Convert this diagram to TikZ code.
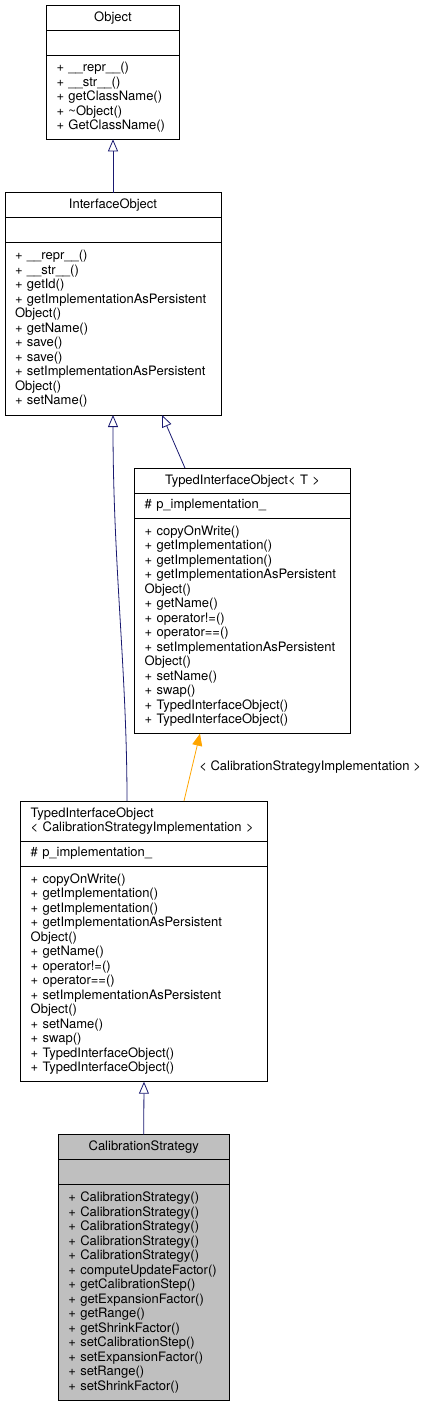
\documentclass[tikz,border=0pt]{standalone}
\usepackage{fontspec}
\setmainfont{TeX Gyre Heros}
\usepackage{xcolor}
\usepackage{tikz}
\usetikzlibrary{positioning,arrows.meta,calc}

\definecolor{edgeblue}{HTML}{191970}
\definecolor{edgeorange}{HTML}{FFA500}

\begin{document}
\begin{tikzpicture}[
  x=1pt,y=1pt,
  font=\fontsize{13}{14.5}\selectfont,
  cls/.style ={draw,line width=0.8pt,outer sep=0pt,inner xsep=10pt,inner ysep=0pt,fill=white},
  ttl/.style ={cls,align=center,minimum height=25pt},
  attr/.style={cls,align=left,minimum height=25pt},
  meth/.style={cls,align=left},
  inh/.style ={-{Triangle[open,length=12pt,width=10pt]},line width=0.8pt,edgeblue},
  tmpl/.style={-{Triangle[length=12pt,width=10pt]},line width=0.8pt,edgeorange}
]
\useasboundingbox (0,0) rectangle (431,-1408);
% Object
\node[ttl,text width=113pt] (objT) at (113,-17.8) {Object};
\node[attr,text width=113pt,below=0pt of objT] (objA) {};
\node[meth,text width=113pt,minimum height=84pt,below=0pt of objA] (objM)
  {+ \_\_repr\_\_()\\+ \_\_str\_\_()\\+ getClassName()\\+ \textasciitilde Object()\\+ GetClassName()};
% InterfaceObject
\node[ttl,text width=196pt] (ioT) at (113,-205.2) {InterfaceObject};
\node[attr,text width=196pt,below=0pt of ioT] (ioA) {};
\node[meth,text width=196pt,minimum height=172.3pt,below=0pt of ioA] (ioM)
  {+ \_\_repr\_\_()\\+ \_\_str\_\_()\\+ getId()\\+ getImplementationAsPersistent\\Object()\\+ getName()\\+ save()\\+ save()\\+ setImplementationAsPersistent\\Object()\\+ setName()};
% TypedInterfaceObject< T >
\node[ttl,text width=195.6pt] (tioT) at (242.5,-480.6) {TypedInterfaceObject< T >};
\node[attr,text width=195.6pt,below=0pt of tioT] (tioA) {\# p\_implementation\_};
\node[meth,text width=195.6pt,minimum height=215.6pt,below=0pt of tioA] (tioM)
  {+ copyOnWrite()\\+ getImplementation()\\+ getImplementation()\\+ getImplementationAsPersistent\\Object()\\+ getName()\\+ operator!=()\\+ operator==()\\+ setImplementationAsPersistent\\Object()\\+ setName()\\+ swap()\\+ TypedInterfaceObject()\\+ TypedInterfaceObject()};
% TypedInterfaceObject< CalibrationStrategyImplementation >
\node[cls,align=left,minimum height=40pt,text width=226.6pt] (cimT) at (144,-821) {TypedInterfaceObject\\< CalibrationStrategyImplementation >};
\node[attr,text width=226.6pt,below=0pt of cimT] (cimA) {\# p\_implementation\_};
\node[meth,text width=226.6pt,minimum height=215.7pt,below=0pt of cimA] (cimM)
  {+ copyOnWrite()\\+ getImplementation()\\+ getImplementation()\\+ getImplementationAsPersistent\\Object()\\+ getName()\\+ operator!=()\\+ operator==()\\+ setImplementationAsPersistent\\Object()\\+ setName()\\+ swap()\\+ TypedInterfaceObject()\\+ TypedInterfaceObject()};
% CalibrationStrategy
\node[ttl,text width=150.7pt,fill=black!25] (csT) at (143.7,-1147) {CalibrationStrategy};
\node[attr,text width=150.7pt,fill=black!25,minimum height=25.3pt,below=0pt of csT] (csA) {};
\node[meth,text width=150.7pt,fill=black!25,minimum height=215.4pt,below=0pt of csA] (csM)
  {+ CalibrationStrategy()\\+ CalibrationStrategy()\\+ CalibrationStrategy()\\+ CalibrationStrategy()\\+ CalibrationStrategy()\\+ computeUpdateFactor()\\+ getCalibrationStep()\\+ getExpansionFactor()\\+ getRange()\\+ getShrinkFactor()\\+ setCalibrationStep()\\+ setExpansionFactor()\\+ setRange()\\+ setShrinkFactor()};
% edges
\draw[inh] (ioT.north) -- (objM.south);
\draw[inh] ([xshift=-17pt]cimT.north) .. controls ([xshift=-17pt]$(cimT.north)+(0,130)$) and ([yshift=-150pt]ioM.south) .. (ioM.south);
\draw[inh] ([xshift=-57.5pt]tioT.north) -- ([xshift=49pt]ioM.south);
\draw[tmpl] ([xshift=40pt]cimT.north) -- node[right,inner sep=2pt,xshift=5pt,text=black] (lbl) {< CalibrationStrategyImplementation >} ([xshift=-42.5pt]tioM.south);
\draw[inh] (csT.north) -- (cimM.south);
\end{tikzpicture}
\end{document}
